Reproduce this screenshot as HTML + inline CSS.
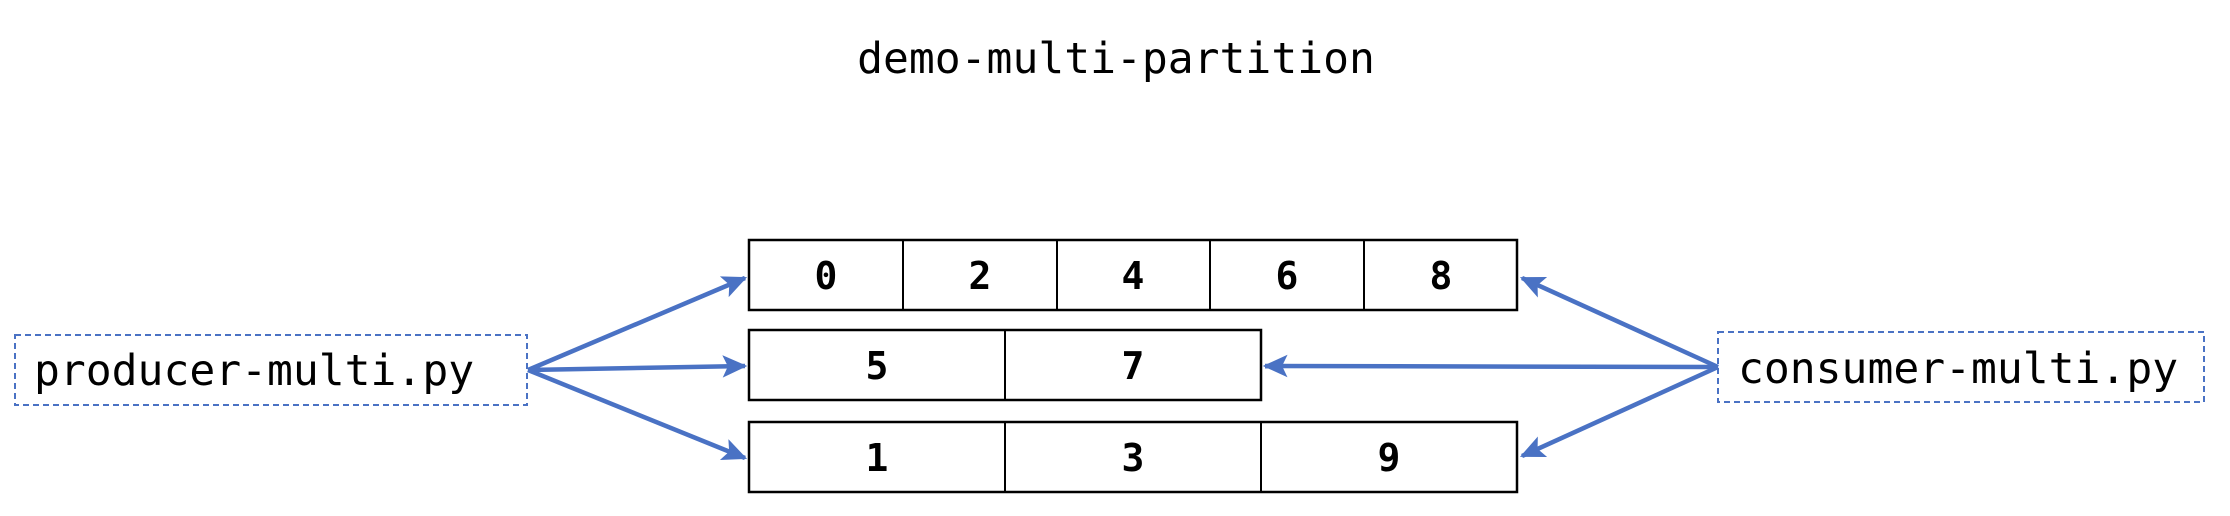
<!DOCTYPE html>
<html><head><meta charset="utf-8"><style>
html,body{margin:0;padding:0;background:#fff;}
svg{display:block;}
</style></head><body>
<svg width="2230" height="516" viewBox="0 0 2230 516" xmlns="http://www.w3.org/2000/svg">
<defs>
<marker id="ah" markerWidth="6" markerHeight="6" refX="5" refY="3" orient="auto" markerUnits="strokeWidth">
<path d="M0,0.5 L5.5,3 L0,5.5 L1.2,3 Z" fill="#4a72c4"/>
</marker>
</defs>
<text x="1116" y="73" font-family="'DejaVu Sans Mono','Liberation Mono',monospace" font-size="43" text-anchor="middle" fill="#000">demo-multi-partition</text>

<g fill="none" stroke="#000" stroke-width="2.5">
<rect x="749" y="240" width="768" height="70"/>
<line x1="903" y1="240" x2="903" y2="310" stroke-width="2"/>
<line x1="1057" y1="240" x2="1057" y2="310" stroke-width="2"/>
<line x1="1210" y1="240" x2="1210" y2="310" stroke-width="2"/>
<line x1="1364" y1="240" x2="1364" y2="310" stroke-width="2"/>
<rect x="749" y="330" width="512" height="70"/>
<line x1="1005" y1="330" x2="1005" y2="400" stroke-width="2"/>
<rect x="749" y="422" width="768" height="70"/>
<line x1="1005" y1="422" x2="1005" y2="492" stroke-width="2"/>
<line x1="1261" y1="422" x2="1261" y2="492" stroke-width="2"/>
</g>
<g font-family="'DejaVu Sans Mono','Liberation Mono',monospace" font-size="38" font-weight="bold" text-anchor="middle" fill="#000">
<text x="826" y="289">0</text>
<text x="980" y="289">2</text>
<text x="1133" y="289">4</text>
<text x="1287" y="289">6</text>
<text x="1441" y="289">8</text>
<text x="877" y="379">5</text>
<text x="1133" y="379">7</text>
<text x="877" y="471">1</text>
<text x="1133" y="471">3</text>
<text x="1389" y="471">9</text>
</g>

<g fill="none" stroke="#4a72c4" stroke-width="2" stroke-dasharray="6,4">
<rect x="15" y="335" width="512" height="70"/>
<rect x="1718" y="332" width="486" height="70"/>
</g>
<g font-family="'DejaVu Sans Mono','Liberation Mono',monospace" font-size="43" fill="#000">
<text x="34" y="385">producer-multi.py</text>
<text x="1738" y="383">consumer-multi.py</text>
</g>

<g stroke="#4a72c4" stroke-width="4.5" fill="none" marker-end="url(#ah)">
<line x1="528" y1="370" x2="745" y2="278"/>
<line x1="528" y1="370" x2="745" y2="366"/>
<line x1="528" y1="370" x2="745" y2="458"/>
<line x1="1718" y1="367" x2="1522" y2="278"/>
<line x1="1718" y1="367" x2="1265" y2="366"/>
<line x1="1718" y1="367" x2="1522" y2="456"/>
</g>
</svg>
</body></html>
